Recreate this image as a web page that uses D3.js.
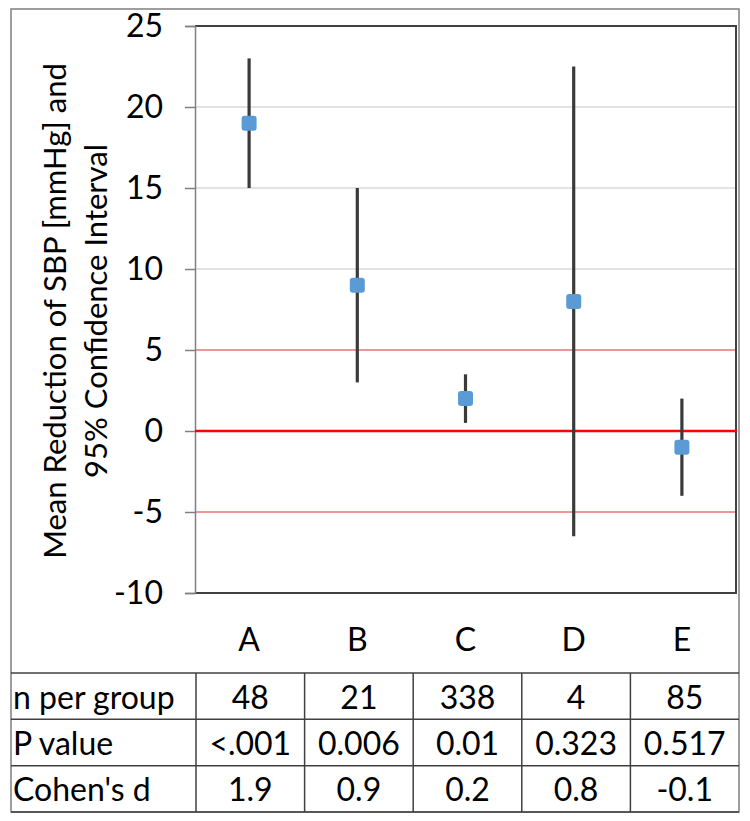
<!DOCTYPE html>
<html>
<head>
<meta charset="utf-8">
<script src="https://cdn.jsdelivr.net/npm/d3@7"></script>
<style>
  html, body { margin: 0; padding: 0; background: #fff; }
  svg { display: block; }
  text { font-family: Lato, "Open Sans", sans-serif; fill: #000; }
</style>
</head>
<body>
<svg id="chart" width="750" height="821"></svg>
<script>
// ---- data ----
const categories = ["A", "B", "C", "D", "E"];
const means      = [19, 9, 2, 8, -1];
const ciLower    = [15, 3, 0.5, -6.5, -4];
const ciUpper    = [23, 15, 3.5, 22.5, 2];
const yTicks     = [25, 20, 15, 10, 5, 0, -5, -10];
const grayGrid   = [10, 15, 20];
const redGrid    = [5, -5];
const rowLabels  = ["n per group", "P value", "Cohen's d"];
const nPerGroup  = ["48", "21", "338", "4", "85"];
const pValues    = ["<.001", "0.006", "0.01", "0.323", "0.517"];
const cohensD    = ["1.9", "0.9", "0.2", "0.8", "-0.1"];
const yTitle     = ["Mean Reduction of SBP [mmHg] and", "95% Confidence Interval"];

// ---- layout ----
const svg = d3.select("#chart");
const plot = { left: 195, right: 736, top: 26, bottom: 593 };
const outer = { left: 11, right: 739, top: 9, bottom: 812 };
const fontSize = 32;
const titleSize = 31;

const y = d3.scaleLinear().domain([-10, 25]).range([plot.bottom, plot.top]);
const x = d3.scaleBand().domain(categories).range([plot.left, plot.right]);

// outer border
svg.append("rect")
  .attr("x", outer.left).attr("y", outer.top)
  .attr("width", outer.right - outer.left).attr("height", outer.bottom - outer.top)
  .attr("fill", "none").attr("stroke", "#7f7f7f").attr("stroke-width", 1.5);

// gridlines
svg.selectAll(".ggrid").data(grayGrid).join("line")
  .attr("x1", plot.left).attr("x2", plot.right)
  .attr("y1", d => y(d)).attr("y2", d => y(d))
  .attr("stroke", "#d9d9d9").attr("stroke-width", 1.5);
svg.selectAll(".rgrid").data(redGrid).join("line")
  .attr("x1", plot.left).attr("x2", plot.right)
  .attr("y1", d => y(d)).attr("y2", d => y(d))
  .attr("stroke", "#d83030").attr("stroke-width", 1);

// plot border (top, right, bottom)
svg.append("path")
  .attr("d", `M${plot.left},${plot.top}H${plot.right}V${plot.bottom}H${plot.left}`)
  .attr("fill", "none").attr("stroke", "#404040").attr("stroke-width", 2);

// y axis
const yAxis = d3.axisLeft(y).tickValues(yTicks).tickSize(10).tickPadding(22).tickFormat(d => String(d));
const gy = svg.append("g").attr("transform", `translate(${plot.left},0)`).call(yAxis);
gy.select(".domain").attr("stroke", "#808080").attr("stroke-width", 1.5);
gy.selectAll(".tick line").attr("stroke", "#808080").attr("stroke-width", 1.5);
gy.selectAll(".tick text")
  .style("font-family", "Lato, sans-serif").attr("font-size", fontSize).attr("fill", "#000");
gy.attr("font-size", null).attr("font-family", null);

// zero line
svg.append("line")
  .attr("x1", plot.left).attr("x2", plot.right + 1)
  .attr("y1", y(0)).attr("y2", y(0))
  .attr("stroke", "#ff0000").attr("stroke-width", 2.5);

// error bars
svg.selectAll(".err").data(categories).join("line")
  .attr("x1", d => x(d) + x.bandwidth() / 2).attr("x2", d => x(d) + x.bandwidth() / 2)
  .attr("y1", (d, i) => y(ciUpper[i])).attr("y2", (d, i) => y(ciLower[i]))
  .attr("stroke", "#3a3a3a").attr("stroke-width", 3.2);

// markers
const ms = 15;
svg.selectAll(".mk").data(categories).join("rect")
  .attr("x", d => x(d) + x.bandwidth() / 2 - ms / 2)
  .attr("y", (d, i) => y(means[i]) - ms / 2)
  .attr("width", ms).attr("height", ms).attr("rx", 3)
  .attr("fill", "#5b9bd5");

// category labels
svg.selectAll(".cat").data(categories).join("text")
  .attr("x", d => x(d) + x.bandwidth() / 2).attr("y", 638)
  .attr("text-anchor", "middle").attr("dominant-baseline", "central")
  .attr("font-size", fontSize).text(d => d);

// y title
const tg = svg.append("g").attr("transform", "translate(0,311) rotate(-90)");
tg.selectAll("text").data(yTitle).join("text")
  .attr("x", 0).attr("y", (d, i) => 66 + i * 41)
  .attr("text-anchor", "middle").attr("font-size", titleSize)
  .text(d => d);

// ---- table ----
const tableTop = 673;
const rowH = (outer.bottom - tableTop) / 3;
const firstColRight = 196;
const tx = d3.scaleBand().domain(categories).range([firstColRight, outer.right]);
const rows = [nPerGroup, pValues, cohensD];
const rowY = d3.range(4).map(i => tableTop + i * rowH);

svg.selectAll(".hline").data(rowY).join("line")
  .attr("x1", outer.left).attr("x2", outer.right)
  .attr("y1", d => d).attr("y2", d => d)
  .attr("stroke", "#404040").attr("stroke-width", 1.5);
const colX = [firstColRight].concat(categories.slice(1).map(c => tx(c)));
svg.selectAll(".vline").data(colX).join("line")
  .attr("x1", d => d).attr("x2", d => d)
  .attr("y1", tableTop).attr("y2", outer.bottom)
  .attr("stroke", "#404040").attr("stroke-width", 1.5);

svg.selectAll(".rlabel").data(rowLabels).join("text")
  .attr("x", outer.left + 2).attr("y", (d, i) => rowY[i] + rowH / 2)
  .attr("dominant-baseline", "central").attr("font-size", fontSize)
  .text(d => d);

rows.forEach((vals, r) => {
  svg.selectAll(".cell" + r).data(vals).join("text")
    .attr("x", (d, i) => tx(categories[i]) + tx.bandwidth() / 2)
    .attr("y", rowY[r] + rowH / 2)
    .attr("text-anchor", "middle").attr("dominant-baseline", "central")
    .attr("font-size", fontSize)
    .text(d => d);
});
</script>
</body>
</html>
